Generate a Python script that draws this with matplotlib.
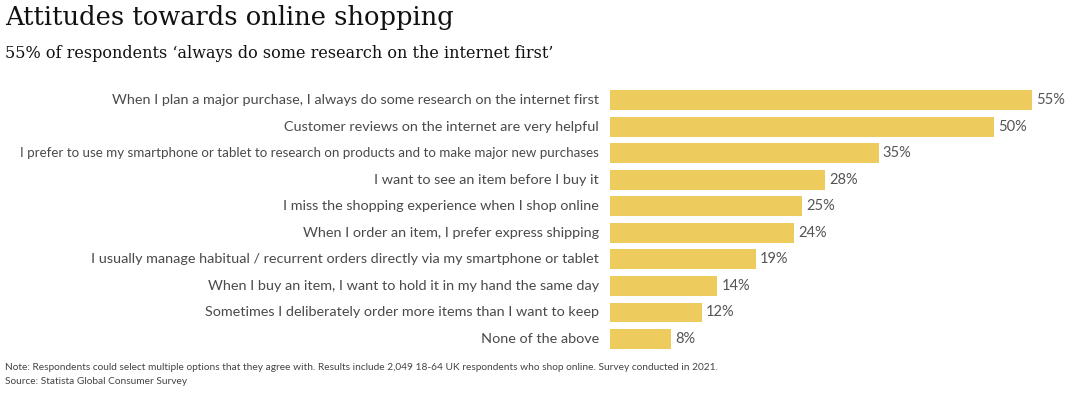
import matplotlib.pyplot as plt

labels = [
    "When I plan a major purchase, I always do some research on the internet first",
    "Customer reviews on the internet are very helpful",
    "I prefer to use my smartphone or tablet to research on products and to make major new purchases",
    "I want to see an item before I buy it",
    "I miss the shopping experience when I shop online",
    "When I order an item, I prefer express shipping",
    "I usually manage habitual / recurrent orders directly via my smartphone or tablet",
    "When I buy an item, I want to hold it in my hand the same day",
    "Sometimes I deliberately order more items than I want to keep",
    "None of the above",
]
values = [55, 50, 35, 28, 25, 24, 19, 14, 12, 8]

W, H = 1079, 397
fig = plt.figure(figsize=(W / 100, H / 100), dpi=100)

# axes placed in pixel coordinates
left, right = 610, 1032
top, bottom = 86.7, 352.3
ax = fig.add_axes([left / W, 1 - bottom / H, (right - left) / W, (bottom - top) / H])

bar_color = "#EDCB5D"
ypos = list(range(len(values)))
ax.barh(ypos, values, height=0.75, color=bar_color)
ax.set_xlim(0, 55)
ax.set_ylim(len(values) - 0.5, -0.5)
ax.axis("off")

for y, v, lab in zip(ypos, values, labels):
    ax.annotate(f"{v}%", (v, y), xytext=(3, 0), textcoords="offset points",
                va="center", ha="left", fontsize=10.5, color="#555555",
                family="Lato")
    # the long label is set tighter in the original so it fits
    fs = 9.6 if len(lab) > 85 else 10.4
    ax.annotate(lab, (0, y), xytext=(-8, 0), textcoords="offset points",
                va="center", ha="right", fontsize=fs, color="#4a4a4a",
                family="Lato", annotation_clip=False)

fig.text(5 / W, 1 - 18 / H, "Attitudes towards online shopping", fontsize=18.5,
         family="DejaVu Serif", va="center", ha="left", color="#111111")
fig.text(5 / W, 1 - 53 / H, "55% of respondents \u2018always do some research on the internet first\u2019",
         fontsize=11.5, family="DejaVu Serif", va="center", ha="left", color="#111111")
fig.text(5 / W, 1 - 368 / H,
         "Note: Respondents could select multiple options that they agree with. Results include 2,049 18-64 UK respondents who shop online. Survey conducted in 2021.",
         fontsize=7.3, family="Lato", va="center", ha="left", color="#444444")
fig.text(5 / W, 1 - 382 / H, "Source: Statista Global Consumer Survey",
         fontsize=7.3, family="Lato", va="center", ha="left", color="#444444")

fig.savefig("out.png", dpi=100)
